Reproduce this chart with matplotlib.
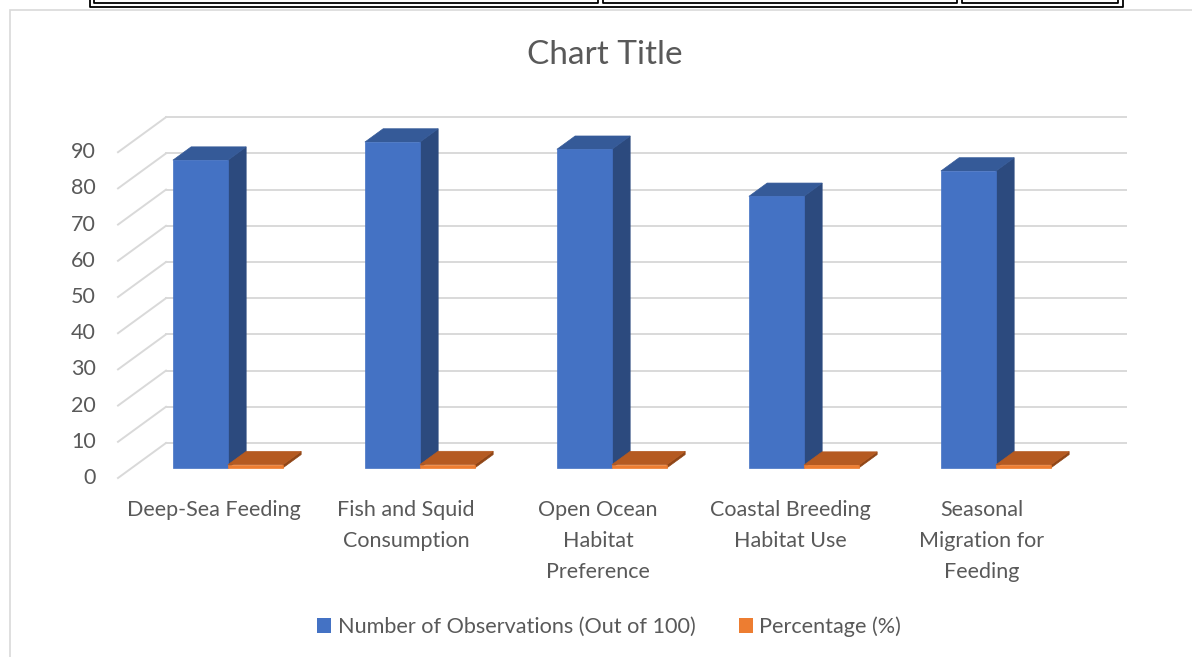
import numpy as np
import matplotlib.pyplot as plt
from matplotlib.patches import Polygon, Patch, Rectangle
from matplotlib.lines import Line2D

plt.rcParams['font.family'] = ['Lato', 'DejaVu Sans']

categories = ['Deep-Sea Feeding', 'Fish and Squid\nConsumption', 'Open Ocean\nHabitat\nPreference',
              'Coastal Breeding\nHabitat Use', 'Seasonal\nMigration for\nFeeding']
observations = [85, 90, 88, 75, 82]
percentage = [0.85, 0.90, 0.88, 0.75, 0.82]
series_names = ['Number of Observations (Out of 100)', 'Percentage (%)']
yticks = np.arange(0, 91, 10)

W, H = 1192, 657
# pseudo 3d: pixel layout of the walls
PX_X0 = 214      # pixel x of category 0 at front wall
PX_CAT = 192     # pixels per category
PX_Y0 = 478      # pixel y (from top) of value 0 at front wall
PX_VAL = 3.62    # pixels per value unit
DX = 48 / PX_CAT         # wall depth in x data units
DY = 35 / PX_VAL         # wall depth in y data units
D0, D1 = 0.29, 0.67      # bar depth range (fraction of wall depth)
BW = 55 / PX_CAT         # bar width

grid_col = '#D9D9D9'
text_col = '#595959'
blue = ('#4472C4', '#355A98', '#2C4A7E')    # front, top, side
orange = ('#ED7D31', '#B55A21', '#8F4516')

fig = plt.figure(figsize=(W / 100, H / 100), dpi=100)
ax = fig.add_axes([0, 0, 1, 1])
ax.set_xlim(-PX_X0 / PX_CAT, (W - PX_X0) / PX_CAT)
ax.set_ylim((PX_Y0 - H) / PX_VAL, PX_Y0 / PX_VAL)
ax.axis('off')

# chart area border and the table edge above it (figure pixels)
def fx(px):
    return px / W

def fy(py):
    return 1 - py / H

fig.patches.append(Rectangle((fx(10), fy(H + 5)), fx(W + 5) - fx(10), fy(10) - fy(H + 5),
                             transform=fig.transFigure, fill=False, ec='#D9D9D9', lw=1.2))
tbl = [((90, 1123), 7), ((94, 598), 2.5), ((603, 957), 2.5), ((962, 1118), 2.5)]
for (xa, xb), yb in tbl:
    fig.add_artist(Line2D([fx(xa), fx(xa), fx(xb), fx(xb)], [fy(-5), fy(yb), fy(yb), fy(-5)],
                          transform=fig.transFigure, color='black', lw=1.3))

# walls: side-wall diagonals and back-wall gridlines
n = len(categories)
xl = -0.5
xr = n - 0.5
for v in yticks:
    ax.plot([xl, xl + DX], [v, v + DY], color=grid_col, lw=1.4, zorder=1)
    ax.plot([xl + DX, xr + DX], [v + DY, v + DY], color=grid_col, lw=1.4, zorder=1)
    ax.text(-0.615, v, str(v), ha='right', va='center', fontsize=15.5, color=text_col)

def bar3d(x0, h, cols):
    fx0 = x0 + D0 * DX
    fy0 = D0 * DY
    ddx = (D1 - D0) * DX
    ddy = (D1 - D0) * DY
    side = [(fx0 + BW, fy0), (fx0 + BW + ddx, fy0 + ddy), (fx0 + BW + ddx, fy0 + ddy + h), (fx0 + BW, fy0 + h)]
    top = [(fx0, fy0 + h), (fx0 + BW, fy0 + h), (fx0 + BW + ddx, fy0 + h + ddy), (fx0 + ddx, fy0 + h + ddy)]
    ax.add_patch(Polygon(side, closed=True, fc=cols[2], ec=cols[2], lw=0.5, zorder=2))
    ax.add_patch(Polygon(top, closed=True, fc=cols[1], ec=cols[1], lw=0.5, zorder=2))
    ax.bar(fx0, h, BW, bottom=fy0, align='edge', color=cols[0], ec=cols[0], lw=0.5, zorder=2)

for i in range(n):
    bar3d(i - BW, observations[i], blue)
    bar3d(i, percentage[i], orange)
    ax.text(i, (PX_Y0 - 500) / PX_VAL, categories[i], ha='center', va='top', fontsize=15.5,
            color=text_col, linespacing=1.7)

fig.text(0.5075, fy(55), 'Chart Title', ha='center', va='center', fontsize=24, color=text_col)

handles = [Patch(fc=blue[0], ec='none'), Patch(fc=orange[0], ec='none')]
fig.legend(handles, series_names, loc='center', bbox_to_anchor=(fx(609), fy(627)), ncol=2,
           frameon=False, fontsize=15.6, handlelength=0.65, handleheight=0.65, handletextpad=0.3,
           columnspacing=2.0, labelcolor=text_col)

fig.savefig('out.png', dpi=100, facecolor='white')
